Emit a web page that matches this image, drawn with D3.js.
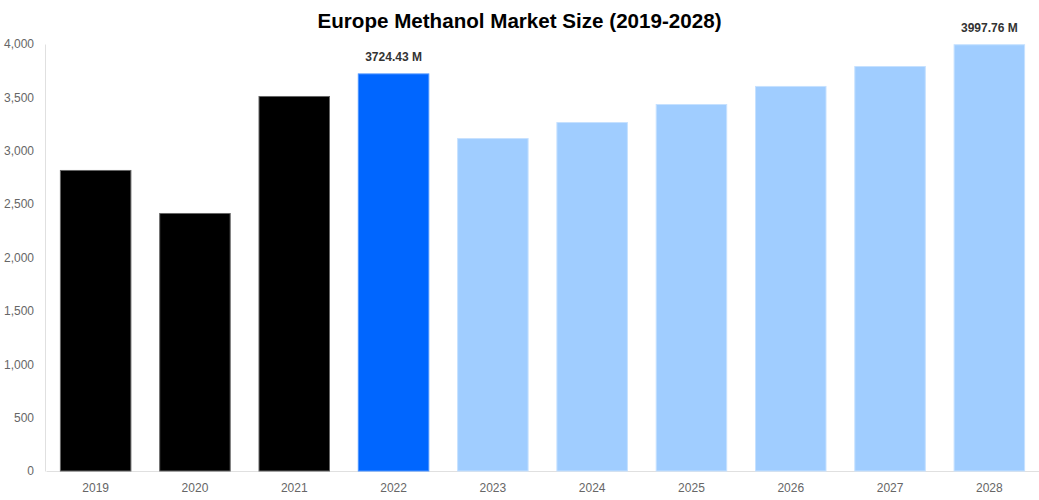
<!DOCTYPE html>
<html>
<head>
<meta charset="utf-8">
<script src="https://cdn.jsdelivr.net/npm/d3@7"></script>
<style>
  body { margin: 0; background: #fff; }
  svg { display: block; font-family: "Liberation Sans", Arial, sans-serif; }
</style>
</head>
<body>
<div id="chart"></div>
<script>
// Données
const years   = ['2019', '2020', '2021', '2022', '2023', '2024', '2025', '2026', '2027', '2028'];
const values  = [2820, 2417, 3513, 3724.43, 3119, 3269, 3438, 3607, 3794, 3997.76];
const kinds   = ['hist', 'hist', 'hist', 'base', 'fcst', 'fcst', 'fcst', 'fcst', 'fcst', 'fcst'];
const labels  = ['', '', '', '3724.43 M', '', '', '', '', '', '3997.76 M'];
const yTicks  = [0, 500, 1000, 1500, 2000, 2500, 3000, 3500, 4000];

const W = 1039, H = 500;
const margin = { top: 44, right: 0, bottom: 29, left: 45 };

const fill   = { hist: '#000000', base: '#0066ff', fcst: '#a0cdff' };
const stroke = { hist: '#666666', base: '#4d94ff', fcst: '#c6e1ff' };

const svg = d3.select('#chart').append('svg')
    .attr('width', W)
    .attr('height', H);

const x = d3.scaleBand()
    .domain(years)
    .range([margin.left + 1, W - margin.right])
    .paddingInner(0.28)
    .paddingOuter(0.14);

const y = d3.scaleLinear()
    .domain([0, 4000])
    .range([H - margin.bottom, margin.top]);

// Titre
svg.append('text')
    .attr('x', W / 2)
    .attr('y', 28)
    .attr('text-anchor', 'middle')
    .attr('font-size', '20.6px')
    .attr('font-weight', 'bold')
    .attr('fill', '#000')
    .text('Europe Methanol Market Size (2019-2028)');

// Axe Y
const yAxis = svg.append('g')
    .attr('transform', `translate(${margin.left},0)`)
    .call(d3.axisLeft(y).tickValues(yTicks).tickSize(0).tickPadding(11).tickFormat(d3.format(',')));
yAxis.select('.domain').attr('stroke', '#e0e0e0');
yAxis.selectAll('text').attr('fill', '#666').attr('font-size', '12px')
    .attr('font-family', '"Liberation Sans", Arial, sans-serif');

// Axe X
const xAxis = svg.append('g')
    .attr('transform', `translate(0,${H - margin.bottom})`)
    .call(d3.axisBottom(x).tickSize(0).tickPadding(12));
xAxis.select('.domain').attr('stroke', '#e0e0e0');
xAxis.selectAll('text').attr('fill', '#666').attr('font-size', '12px')
    .attr('font-family', '"Liberation Sans", Arial, sans-serif');

// Barres
const data = years.map((yr, i) => ({ year: yr, value: values[i], kind: kinds[i], label: labels[i] }));

svg.append('g').selectAll('rect')
    .data(data)
    .join('rect')
    .attr('x', d => x(d.year) + 0.5)
    .attr('y', d => y(d.value) + 0.5)
    .attr('width', x.bandwidth() - 1)
    .attr('height', d => y(0) - y(d.value) - 0.5)
    .attr('fill', d => fill[d.kind])
    .attr('stroke', d => stroke[d.kind])
    .attr('stroke-width', 1);

// Étiquettes de valeur
svg.append('g').selectAll('text')
    .data(data.filter(d => d.label))
    .join('text')
    .attr('x', d => x(d.year) + x.bandwidth() / 2)
    .attr('y', d => y(d.value) - 12)
    .attr('text-anchor', 'middle')
    .attr('font-size', '12px')
    .attr('font-weight', 'bold')
    .attr('fill', '#333')
    .text(d => d.label);
</script>
</body>
</html>
